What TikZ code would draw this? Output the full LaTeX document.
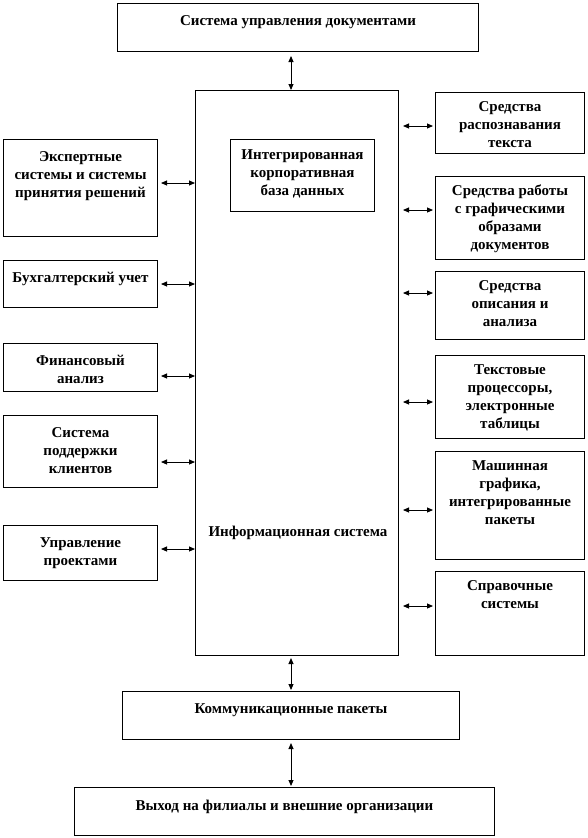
\documentclass[tikz,border=0pt]{standalone}
\usepackage{fontspec}
\setmainfont{Liberation Serif}
\usetikzlibrary{arrows.meta,calc}
\tikzset{
  >={Triangle[length=6pt,width=5pt]},
  box/.style={draw,line width=1pt,anchor=north west,inner sep=0pt},
  txt/.style={anchor=north,align=center,inner sep=0pt,font=\bfseries\fontsize{15}{18}\selectfont},
  link/.style={<->,line width=0.9pt},
}

\begin{document}
\begin{tikzpicture}[x=1pt,y=-1pt]
  \fill[white] (0,0) rectangle (587,838);
  % top and main blocks
  \node[box,minimum width=361pt,minimum height=48pt] (docs) at (117,3) {};
  \node[txt] (docs-t) at ([yshift=-12pt]docs.north) {Система управления документами};
  \node[box,minimum width=203pt,minimum height=565pt] (main) at (195,90) {};
  \node[txt,anchor=center] (main-t) at (298,533) {Информационная система};
  \node[box,minimum width=144pt,minimum height=72pt] (base) at (230,139) {};
  \node[txt] (base-t) at ([yshift=-10pt]base.north) {Интегрированная\\корпоративная\\база данных};
  % left column
  \foreach \n/\y/\h/\a/\t in {
      l1/139/97/183/{Экспертные\\системы и системы\\принятия решений},
      l2/260/47/284/{Бухгалтерский учет},
      l3/343/48/376/{Финансовый\\анализ},
      l4/415/72/462/{Система\\поддержки\\клиентов},
      l5/525/55/549/{Управление\\проектами}}
  {
    \node[box,minimum width=154pt,minimum height=\h pt] (\n) at (3,\y) {};
    \node[txt] (\n-t) at ([yshift=-12pt]\n.north) {\t};
    \draw[link,shorten <=3pt] (\n.east |- 0,\a) -- (main.west |- 0,\a);
  }
  % right column
  \foreach \n/\y/\h/\a/\t in {
      r1/92/61/126/{Средства\\распознавания\\текста},
      r2/176/83/210/{Средства работы\\с графическими\\образами\\документов},
      r3/271/68/293/{Средства\\описания и\\анализа},
      r4/355/83/402/{Текстовые\\процессоры,\\электронные\\таблицы},
      r5/451/108/510/{Машинная\\графика,\\интегрированные\\пакеты},
      r6/571/84/606/{Справочные\\системы}}
  {
    \node[box,minimum width=149pt,minimum height=\h pt] (\n) at (435,\y) {};
    \node[txt] (\n-t) at ([yshift=-9pt]\n.north) {\t};
    \draw[link,shorten <=4pt,shorten >=2pt] (main.east |- 0,\a) -- (\n.west |- 0,\a);
  }
  % bottom blocks
  \node[box,minimum width=337pt,minimum height=48pt] (komm) at (122,691) {};
  \node[txt] (komm-t) at ([yshift=-12pt]komm.north) {Коммуникационные пакеты};
  \node[box,minimum width=420pt,minimum height=48pt] (exit) at (74,787) {};
  \node[txt] (exit-t) at ([yshift=-13pt]exit.north) {Выход на филиалы и внешние организации};
  % vertical links
  \draw[link,shorten <=4pt] (komm.north |- docs.south) -- (komm.north |- main.north);
  \draw[link,shorten <=2pt,shorten >=1pt] (komm.north |- main.south) -- (komm.north);
  \draw[link,shorten <=3pt,shorten >=1pt] (komm.south) -- (komm.south |- exit.north);
\end{tikzpicture}
\end{document}
